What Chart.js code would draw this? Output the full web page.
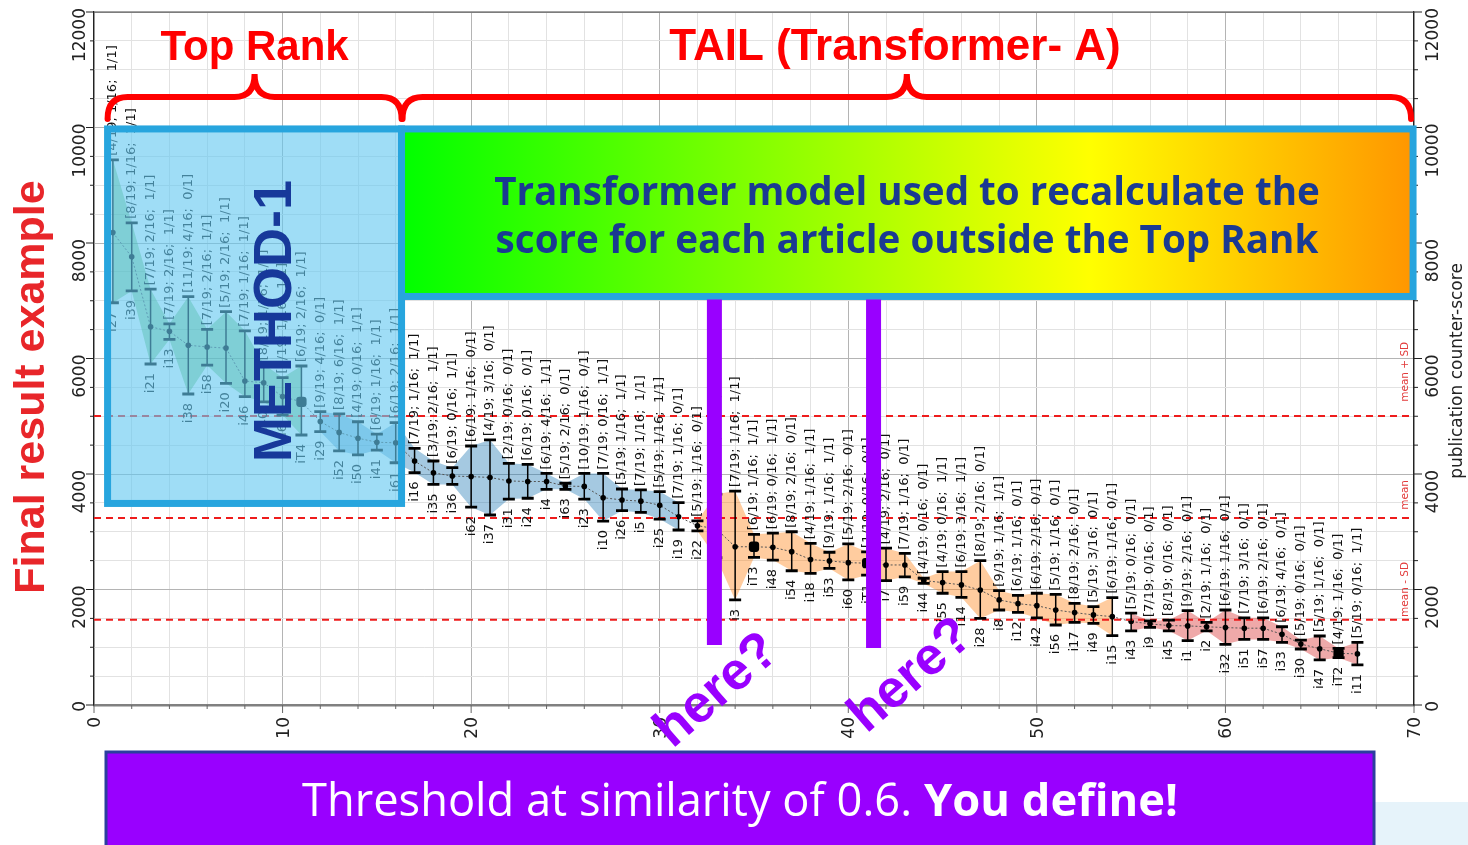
<!DOCTYPE html>
<html>
<head>
<meta charset="utf-8">
<script src="https://cdn.jsdelivr.net/npm/chart.js@4.4.1/dist/chart.umd.min.js"></script>
<style>
  html, body { margin: 0; padding: 0; background: #fff; }
  canvas { display: block; }
</style>
</head>
<body>
<canvas id="resultchart" width="1468" height="845"></canvas>
<script>
// articles in rank order (x = 1..67)
var names = ['i27','i39','i21','i13','i38','i58','i20','i46','i40','i6','iT4','i29','i52','i50','i41','i61',
  'i16','i35','i36','i62','i37','i31','i24','i4','i63','i23','i10','i26','i5','i25','i19','i22','i34','i3',
  'iT3','i48','i54','i18','i53','i60','iT1','i7','i59','i44','i55','i14','i28','i8','i12','i42','i56','i17',
  'i49','i15','i43','i9','i45','i1','i2','i32','i51','i57','i33','i30','i47','iT2','i11'];
var scores = [8180,7760,6550,6470,6230,6200,6180,5610,5580,5340,5250,4910,4720,4620,4550,4540,
  4225,4020,3965,3955,3940,3880,3870,3870,3790,3785,3590,3550,3530,3460,3260,3105,3050,2740,
  2740,2730,2655,2520,2495,2465,2455,2425,2425,2155,2120,2080,1990,1820,1755,1720,1645,1600,
  1560,1530,1445,1405,1375,1370,1355,1340,1330,1330,1225,1055,975,895,885];
var highs = [9440,8350,7200,6600,7070,6505,6810,6480,5900,5670,5870,5080,5040,4905,4690,4890,
  4445,4225,4110,4485,4590,4185,4165,4010,3840,4010,4010,3740,3725,3695,3505,3190,3650,3705,
  2955,2975,3000,2800,2645,2790,2650,2715,2625,2195,2310,2310,2500,1980,1900,1935,1915,1760,
  1705,1860,1590,1455,1470,1635,1430,1645,1510,1510,1355,1125,1195,980,1085];
var lows = [6965,7170,5905,6330,5385,5885,5570,5340,5250,5020,4675,4735,4400,4330,4415,4195,
  4025,3820,3820,3425,3290,3565,3580,3735,3735,3565,3185,3365,3335,3220,3030,3015,2550,1820,
  2555,2510,2325,2280,2365,2165,2250,2155,2220,2105,1935,1865,1500,1645,1605,1510,1385,1430,
  1415,1200,1285,1345,1285,1115,1285,1050,1135,1135,1085,970,780,820,695];
var counts = ['[4/19; 1/16;  1/1]','[8/19; 1/16;  1/1]','[7/19; 2/16;  1/1]','[7/19; 2/16;  1/1]',
  '[11/19; 4/16;  0/1]','[7/19; 2/16;  1/1]','[5/19; 2/16;  1/1]','[7/19; 1/16;  1/1]','[8/19; 1/16;  1/1]',
  '[6/19; 1/16;  1/1]','[6/19; 2/16;  1/1]','[9/19; 4/16;  0/1]','[8/19; 6/16;  1/1]','[4/19; 0/16;  1/1]',
  '[6/19; 1/16;  1/1]','[6/19; 2/16;  1/1]','[7/19; 1/16;  1/1]','[3/19; 2/16;  1/1]','[6/19; 0/16;  1/1]',
  '[6/19; 1/16;  0/1]','[4/19; 3/16;  0/1]','[2/19; 0/16;  0/1]','[6/19; 0/16;  0/1]','[6/19; 4/16;  1/1]',
  '[5/19; 2/16;  0/1]','[10/19; 1/16;  0/1]','[7/19; 0/16;  1/1]','[5/19; 1/16;  1/1]','[7/19; 1/16;  1/1]',
  '[5/19; 1/16;  1/1]','[7/19; 1/16;  0/1]','[5/19; 1/16;  0/1]','[6/19; 2/16;  1/1]','[7/19; 1/16;  1/1]',
  '[6/19; 1/16;  1/1]','[6/19; 0/16;  1/1]','[8/19; 2/16;  0/1]','[4/19; 1/16;  1/1]','[9/19; 1/16;  1/1]',
  '[5/19; 2/16;  0/1]','[1/19; 0/16;  0/1]','[4/19; 2/16;  0/1]','[7/19; 1/16;  0/1]','[4/19; 0/16;  0/1]',
  '[4/19; 0/16;  1/1]','[6/19; 3/16;  1/1]','[8/19; 2/16;  0/1]','[9/19; 1/16;  1/1]','[6/19; 1/16;  0/1]',
  '[6/19; 2/16;  0/1]','[5/19; 1/16;  0/1]','[8/19; 2/16;  0/1]','[5/19; 3/16;  0/1]','[6/19; 1/16;  0/1]',
  '[5/19; 0/16;  0/1]','[7/19; 0/16;  0/1]','[8/19; 0/16;  0/1]','[9/19; 2/16;  0/1]','[2/19; 1/16;  0/1]',
  '[6/19; 1/16;  0/1]','[7/19; 3/16;  0/1]','[6/19; 2/16;  0/1]','[6/19; 4/16;  0/1]','[5/19; 0/16;  0/1]',
  '[5/19; 1/16;  0/1]','[4/19; 1/16;  0/1]','[5/19; 0/16;  1/1]'];

// coloured bands: first and last rank of each group
var groupStarts = [1, 12, 32, 55];
var groupEnds = [11, 31, 54, 67];
var bandColors = ['rgba(44,160,44,0.4)', 'rgba(31,119,180,0.4)', 'rgba(255,127,14,0.4)', 'rgba(214,39,40,0.4)'];

var refValues = [5005, 3240, 1475];
var refLabels = ['mean + SD', 'mean', 'mean - SD'];
var refLabelY = [5250, 3380, 1525];

var xTicks = [0, 10, 20, 30, 40, 50, 60, 70];
var yTicks = [0, 2000, 4000, 6000, 8000, 10000, 12000];

var lineData = names.map(function (n, i) { return {x: i + 1, y: scores[i]}; });
var isT = names.map(function (n) { return n.indexOf('iT') === 0; });

var datasets = [{
  data: lineData,
  borderColor: '#555',
  borderWidth: 1,
  borderDash: [2, 2],
  pointRadius: isT.map(function (t) { return t ? 6 : 2.8; }),
  pointStyle: isT.map(function (t) { return t ? 'rectRounded' : 'circle'; }),
  pointBackgroundColor: '#000',
  pointBorderWidth: 0,
  fill: false
}];
groupStarts.forEach(function (s, g) {
  var hi = [], lo = [];
  for (var x = s; x <= groupEnds[g]; x++) {
    hi.push({x: x, y: highs[x - 1]});
    lo.push({x: x, y: lows[x - 1]});
  }
  datasets.push({data: hi, borderWidth: 0, pointRadius: 0, fill: '+1', backgroundColor: bandColors[g]});
  datasets.push({data: lo, borderWidth: 0, pointRadius: 0, fill: false});
});

function fitSize(c, text, weight, family, width) {
  c.font = weight + ' 100px ' + family;
  return 100 * width / c.measureText(text).width;
}

function vText(c, text, x, y, align) {
  c.save();
  c.translate(x, y);
  c.rotate(-Math.PI / 2);
  c.textAlign = align;
  c.fillText(text, 0, 0);
  c.restore();
}

function brace(c, x0, x1, yEnd, yMid, yTip, r) {
  var xm = (x0 + x1) / 2;
  c.beginPath();
  c.moveTo(x0, yEnd);
  c.quadraticCurveTo(x0, yMid, x0 + r, yMid);
  c.lineTo(xm - r, yMid);
  c.quadraticCurveTo(xm, yMid, xm, yTip);
  c.quadraticCurveTo(xm, yMid, xm + r, yMid);
  c.lineTo(x1 - r, yMid);
  c.quadraticCurveTo(x1, yMid, x1, yEnd);
  c.stroke();
}

var decor = {
  id: 'decor',
  beforeDraw: function (chart) {
    var c = chart.ctx;
    c.save();
    c.fillStyle = '#fff';
    c.fillRect(0, 0, chart.width, chart.height);
    c.restore();
  },
  afterDatasetsDraw: function (chart) {
    var c = chart.ctx, xs = chart.scales.x, ys = chart.scales.y, a = chart.chartArea;
    c.save();
    // mean / SD lines
    c.strokeStyle = '#ee1c1c';
    c.lineWidth = 2;
    c.setLineDash([7, 5]);
    refValues.forEach(function (v) {
      var py = ys.getPixelForValue(v);
      c.beginPath(); c.moveTo(a.left, py); c.lineTo(a.right, py); c.stroke();
    });
    c.setLineDash([]);
    c.fillStyle = '#e23b3b';
    c.font = '10.5px "DejaVu Sans"';
    refLabels.forEach(function (t, i) {
      vText(c, t, 1408, ys.getPixelForValue(refLabelY[i]), 'left');
    });
    // error bars
    c.strokeStyle = '#000';
    names.forEach(function (n, i) {
      var px = xs.getPixelForValue(i + 1);
      var ph = ys.getPixelForValue(highs[i]), pl = ys.getPixelForValue(lows[i]);
      c.lineWidth = 1.5;
      c.beginPath(); c.moveTo(px, ph); c.lineTo(px, pl); c.stroke();
      c.lineWidth = 2.8;
      c.beginPath();
      c.moveTo(px - 6, ph); c.lineTo(px + 6, ph);
      c.moveTo(px - 6, pl); c.lineTo(px + 6, pl);
      c.stroke();
    });
    // point labels
    c.fillStyle = '#111';
    c.font = '13px "DejaVu Sans"';
    c.textBaseline = 'middle';
    names.forEach(function (n, i) {
      var px = xs.getPixelForValue(i + 1);
      vText(c, counts[i], px, ys.getPixelForValue(highs[i]) - 4, 'left');
      vText(c, n, px, ys.getPixelForValue(lows[i]) + 9, 'right');
    });
    c.restore();
  },
  afterDraw: function (chart) {
    var c = chart.ctx, xs = chart.scales.x, ys = chart.scales.y, a = chart.chartArea;
    var X = function (v) { return xs.getPixelForValue(v); };
    var Y = function (v) { return ys.getPixelForValue(v); };
    c.save();
    // frame top and tick marks
    c.strokeStyle = '#444';
    c.lineWidth = 1;
    c.beginPath(); c.moveTo(a.left, a.top); c.lineTo(a.right, a.top); c.stroke();
    c.strokeStyle = '#222';
    for (var v = 0; v <= 12000; v += 500) {
      var L = v % 2000 === 0 ? 8 : 4, py = Y(v);
      c.beginPath();
      c.moveTo(a.left - L, py); c.lineTo(a.left, py);
      c.moveTo(a.right, py); c.lineTo(a.right + L, py);
      c.stroke();
    }
    c.strokeStyle = '#666';
    for (var u = 0; u <= 70; u += 2) {
      var Lx = u % 10 === 0 ? 8 : 4;
      c.beginPath(); c.moveTo(X(u), a.bottom); c.lineTo(X(u), a.bottom + Lx); c.stroke();
    }
    // tick labels
    c.fillStyle = '#222';
    c.font = '17px "DejaVu Sans"';
    c.textBaseline = 'alphabetic';
    yTicks.forEach(function (t) {
      vText(c, String(t), 85, Y(t) - 4, 'right');
      vText(c, String(t), 1438, Y(t) - 4, 'right');
    });
    xTicks.forEach(function (t) {
      vText(c, String(t), X(t) + 6, a.bottom + 12, 'right');
    });
    // axis titles
    c.font = '17px "DejaVu Sans"';
    vText(c, 'publication counter-score', 1462, 371, 'center');
    c.fillStyle = '#e8262a';
    c.font = 'bold 43px "Liberation Sans"';
    vText(c, 'Final result example', 44, 387, 'center');

    // METHOD-1 box
    var bx0 = X(0.72), bx1 = X(16.31), by0 = Y(9975), by1 = Y(3490);
    c.fillStyle = 'rgba(100,200,240,0.62)';
    c.fillRect(bx0, by0, bx1 - bx0, by1 - by0);
    c.strokeStyle = '#27a5de';
    c.lineWidth = 7;
    c.strokeRect(bx0, by0, bx1 - bx0, by1 - by0);
    c.fillStyle = '#17399a';
    c.font = 'bold ' + fitSize(c, 'METHOD-1', 'bold', '"Liberation Sans"', 282) + 'px "Liberation Sans"';
    vText(c, 'METHOD-1', 291, 321, 'center');

    // transformer box
    var gx0 = bx1, gx1 = X(69.95), gy0 = by0, gy1 = Y(7074);
    var grad = c.createLinearGradient(gx0, 0, gx1, 0);
    grad.addColorStop(0, '#00ff00');
    grad.addColorStop(0.68, '#ffff00');
    grad.addColorStop(1, '#ff9600');
    c.fillStyle = grad;
    c.fillRect(gx0, gy0, gx1 - gx0, gy1 - gy0);
    c.strokeStyle = '#27a5de';
    c.strokeRect(gx0, gy0, gx1 - gx0, gy1 - gy0);
    c.fillStyle = '#1a3a92';
    c.textAlign = 'center';
    var line1 = 'Transformer model used to recalculate the';
    var line2 = 'score for each article outside the Top Rank';
    var gs = fitSize(c, line1, 'bold', '"Open Sans"', 826);
    c.font = 'bold ' + gs + 'px "Open Sans"';
    c.fillText(line1, 907, 205);
    c.fillText(line2, 907, 253);

    // purple markers
    c.fillStyle = '#9900ff';
    c.fillRect(X(32.9) - 7.5, gy1 + 3, 15, Y(1039) - gy1 - 3);
    c.fillRect(X(41.34) - 7.5, gy1 + 3, 15, Y(987) - gy1 - 3);

    // braces and headings
    c.strokeStyle = '#ff0000';
    c.lineWidth = 6;
    c.lineCap = 'round';
    brace(c, bx0, bx1, by0 - 10, 97, 74, 20);
    brace(c, bx1 + 1, gx1 - 2, by0 - 10, 97, 74, 20);
    c.fillStyle = '#ff0000';
    c.font = 'bold 42px "Liberation Sans"';
    c.fillText('Top Rank', (bx0 + bx1) / 2, 60);
    c.font = 'bold 44px "Liberation Sans"';
    c.fillText('TAIL (Transformer- A)', 895, 60);

    // here? marks
    c.fillStyle = '#9900ff';
    c.font = 'bold 53px "Liberation Sans"';
    [[727, 702], [921, 687]].forEach(function (p) {
      c.save();
      c.translate(p[0], p[1]);
      c.rotate(-41 * Math.PI / 180);
      c.fillText('here?', 0, 0);
      c.restore();
    });

    // bottom banner
    c.fillStyle = '#e6f3fa';
    c.fillRect(1374, 802, 94, 43);
    c.fillStyle = '#9900ff';
    c.fillRect(106, 752, 1268, 100);
    c.strokeStyle = '#2b3f9e';
    c.lineWidth = 3;
    c.strokeRect(106, 752, 1268, 100);
    var t1 = 'Threshold at similarity of 0.6. ', t2 = 'You define!';
    c.font = '100px "Open Sans"';
    var w1 = c.measureText(t1).width;
    c.font = 'bold 100px "Open Sans"';
    var w2 = c.measureText(t2).width;
    var fs = 100 * 876 / (w1 + w2);
    c.fillStyle = '#fff';
    c.textAlign = 'left';
    c.font = fs + 'px "Open Sans"';
    c.fillText(t1, 302, 816);
    c.font = 'bold ' + fs + 'px "Open Sans"';
    c.fillText(t2, 302 + w1 * fs / 100, 816);
    c.restore();
  }
};

var gridColor = function (major) {
  return function (ctx) { return ctx.tick && ctx.tick.value % major === 0 ? '#b4b4b4' : '#e2e2e2'; };
};

var config = {
  type: 'line',
  data: {datasets: datasets},
  options: {
    responsive: false,
    animation: false,
    devicePixelRatio: 1,
    layout: {padding: {top: 12, left: 0, right: 0, bottom: 0}},
    plugins: {legend: {display: false}, tooltip: {enabled: false}},
    elements: {line: {tension: 0}},
    scales: {
      x: {
        type: 'linear', min: 0, max: 70,
        ticks: {stepSize: 2, display: false},
        grid: {color: gridColor(10), drawTicks: false},
        border: {color: '#808080', width: 2.5},
        afterFit: function (s) { s.height = 140; }
      },
      y: {
        min: 0, max: 12000,
        ticks: {stepSize: 500, display: false},
        grid: {color: gridColor(2000), drawTicks: false},
        border: {color: '#222', width: 1.2},
        afterFit: function (s) { s.width = 94; }
      },
      y2: {
        position: 'right', min: 0, max: 12000,
        ticks: {stepSize: 2000, display: false},
        grid: {drawOnChartArea: false, drawTicks: false},
        border: {color: '#222', width: 1.2},
        afterFit: function (s) { s.width = 54; }
      }
    }
  },
  plugins: [decor]
};

var chart = new Chart(document.getElementById('resultchart'), config);
</script>
</body>
</html>
